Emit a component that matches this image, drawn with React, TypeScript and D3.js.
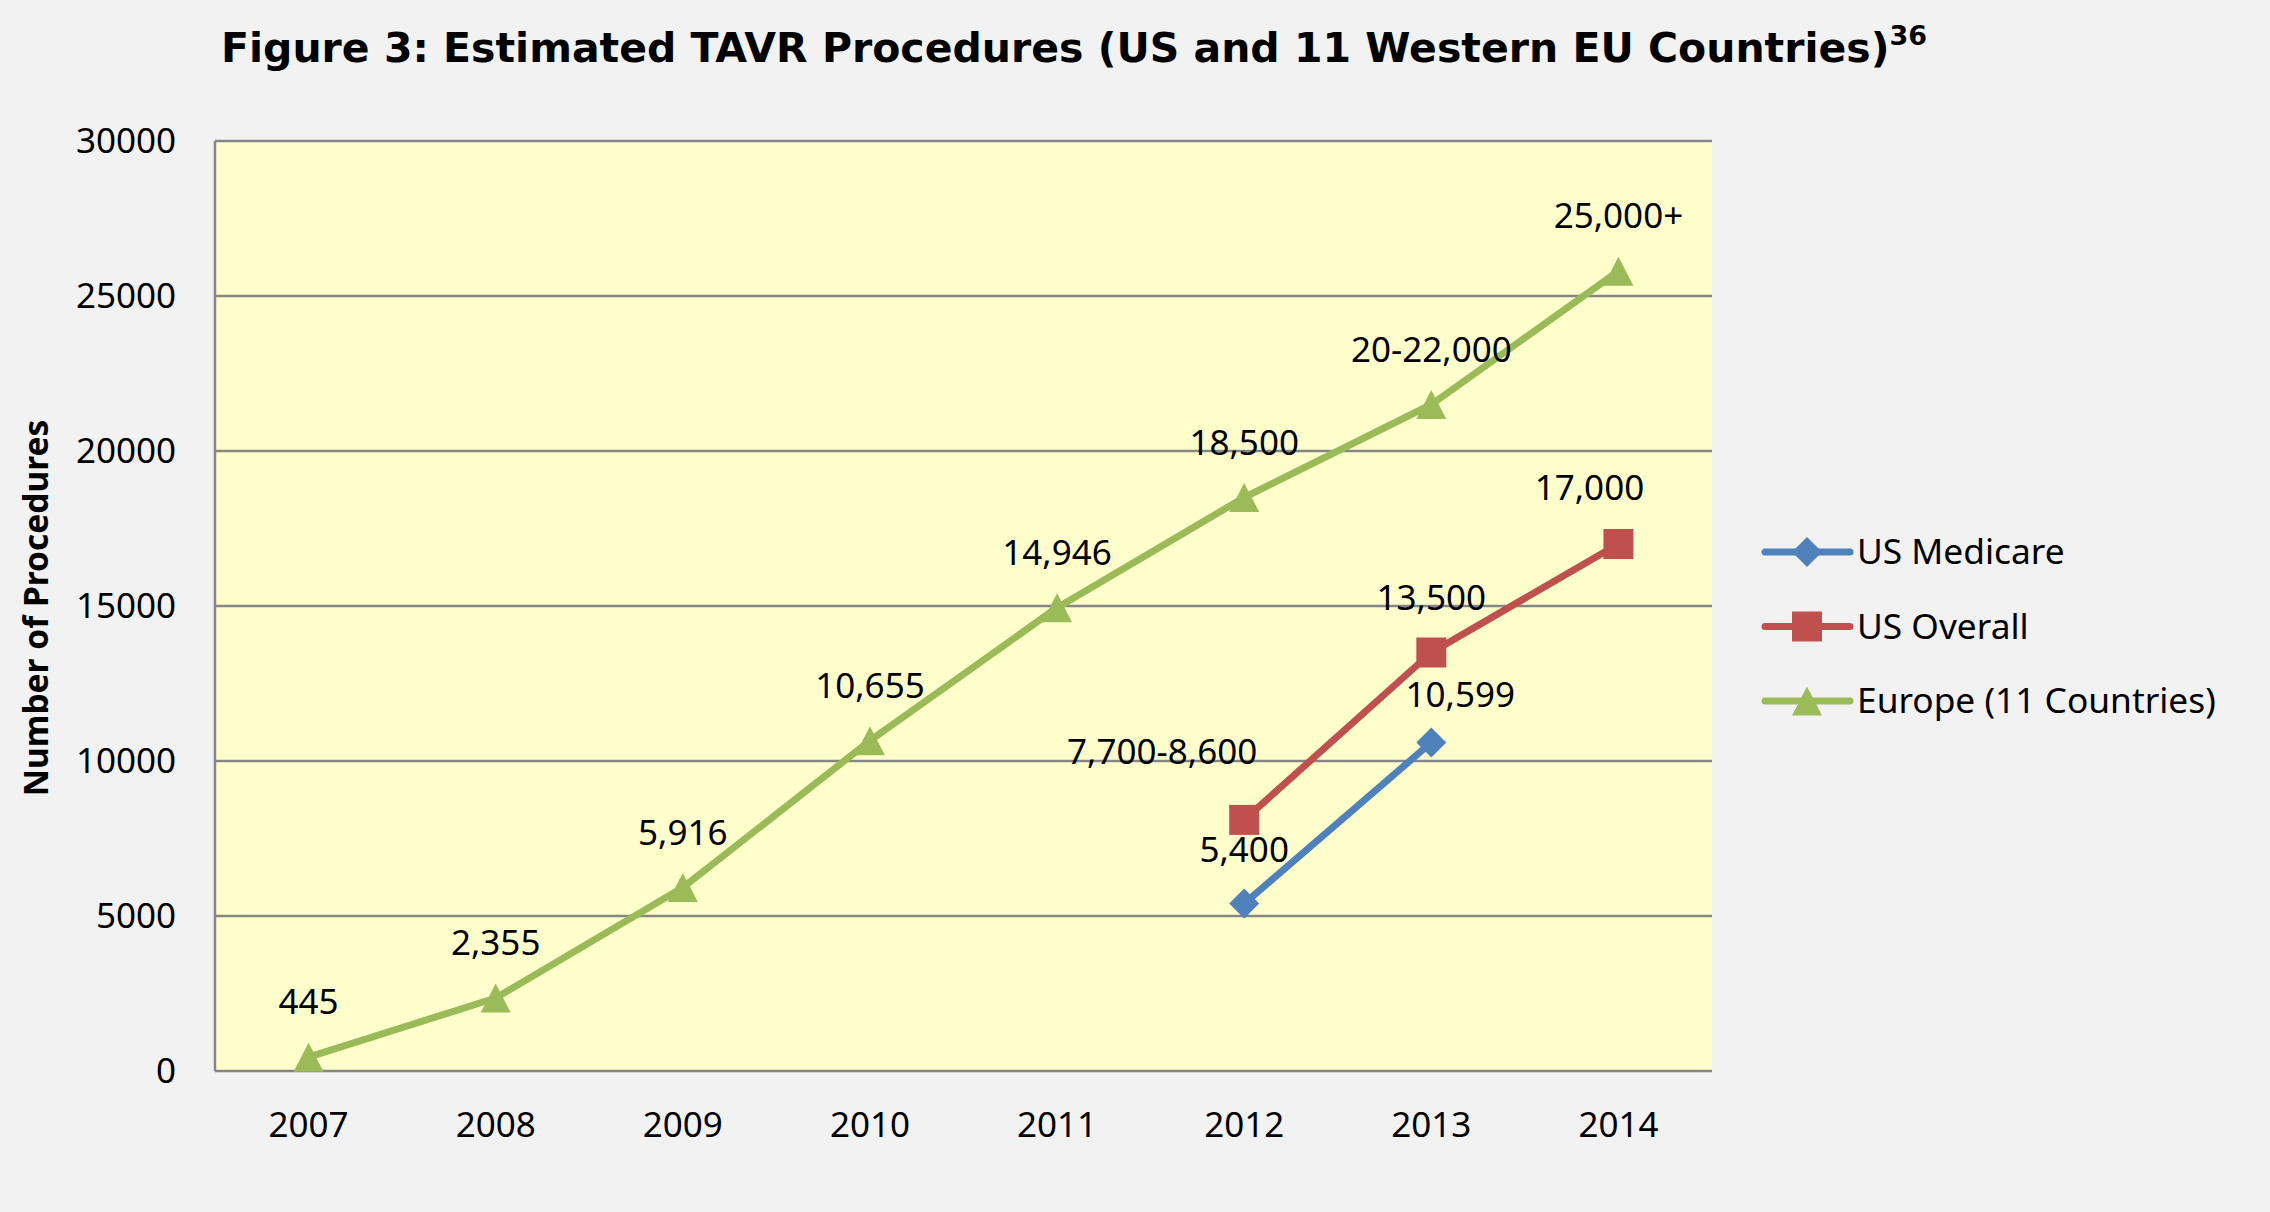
import React from "react";
import * as d3 from "d3";

const years = ["2007", "2008", "2009", "2010", "2011", "2012", "2013", "2014"];
const yTicks = [0, 5000, 10000, 15000, 20000, 25000, 30000];

const europeValues = [445, 2355, 5916, 10655, 14946, 18500, 21500, 25800];
const europeLabels = ["445", "2,355", "5,916", "10,655", "14,946", "18,500", "20-22,000", "25,000+"];

const usOverallYears = ["2012", "2013", "2014"];
const usOverallValues = [8100, 13500, 17000];
const usOverallLabels = ["7,700-8,600", "13,500", "17,000"];

const medicareYears = ["2012", "2013"];
const medicareValues = [5400, 10599];
const medicareLabels = ["5,400", "10,599"];

// label nudges (dx, baseline offset above point)
const europeNudge = europeValues.map(() => [0, 43]);
const usOverallNudge = [[-82, 56], [0, 43], [-29, 44]];
const medicareNudge = [[0, 42], [29, 35]];

const W = 2270, H = 1212;
const left = 215, right = 1712, top = 141, bottom = 1071;
const FONT = "'Noto Sans', 'Open Sans', sans-serif";

const COLORS = { medicare: "#4F81BD", overall: "#C0504D", europe: "#9BBB59" };

function Marker({ type, x, y, color }: { type: string; x: number; y: number; color: string }) {
  if (type === "diamond") {
    const s = 15;
    return <path d={`M${x},${y - s}L${x + s},${y}L${x},${y + s}L${x - s},${y}Z`} fill={color} />;
  }
  if (type === "square") {
    const s = 15;
    return <rect x={x - s} y={y - s} width={2 * s} height={2 * s} fill={color} />;
  }
  const h = 29, w = 30;
  return <path d={`M${x},${y - h / 2}L${x + w / 2},${y + h / 2}L${x - w / 2},${y + h / 2}Z`} fill={color} />;
}

export default function App() {
  const x = d3.scaleBand<string>().domain(years).range([left, right]);
  const cx = (yr: string) => (x(yr) as number) + x.bandwidth() / 2;
  const y = d3.scaleLinear().domain([0, 30000]).range([bottom, top]);
  const line = d3.line<[number, number]>().x((d) => d[0]).y((d) => d[1]);

  const series = [
    { key: "medicare", name: "US Medicare", cats: medicareYears, vals: medicareValues, labels: medicareLabels, nudge: medicareNudge, marker: "diamond" },
    { key: "overall", name: "US Overall", cats: usOverallYears, vals: usOverallValues, labels: usOverallLabels, nudge: usOverallNudge, marker: "square" },
    { key: "europe", name: "Europe (11 Countries)", cats: years, vals: europeValues, labels: europeLabels, nudge: europeNudge, marker: "triangle" },
  ];
  const drawOrder = [series[2], series[1], series[0]];

  return (
    <svg width={W} height={H} style={{ position: "absolute", left: 0, top: 0 }} fontFamily={FONT}>
      <rect x={0} y={0} width={W} height={H} fill="#F2F2F2" />
      <text x={221} y={62} fontFamily="'DejaVu Sans', sans-serif" fontWeight="bold" fontSize={41} fill="#000">
        Figure 3: Estimated TAVR Procedures (US and 11 Western EU Countries)
        <tspan dy={-17} fontSize={27}>36</tspan>
      </text>
      <rect x={left} y={top} width={right - left} height={bottom - top} fill="#FFFFCC" />
      {yTicks.map((t) => (
        <g key={t}>
          <line x1={left} x2={right} y1={y(t)} y2={y(t)} stroke="#868686" strokeWidth={2.5} />
          <text x={176} y={y(t)} dy="0.35em" textAnchor="end" fontSize={35} fill="#000">{t}</text>
        </g>
      ))}
      <line x1={left} x2={left} y1={top} y2={bottom} stroke="#868686" strokeWidth={2.5} />
      {years.map((yr) => (
        <text key={yr} x={cx(yr)} y={1137} textAnchor="middle" fontSize={35} fill="#000">{yr}</text>
      ))}
      <text transform={`translate(48,608) rotate(-90)`} textAnchor="middle" fontSize={33.5} fontWeight="bold" fill="#000">
        Number of Procedures
      </text>
      {drawOrder.map((s) => {
        const pts: [number, number][] = s.cats.map((c, i) => [cx(c), y(s.vals[i])]);
        const color = (COLORS as any)[s.key];
        return (
          <g key={s.key}>
            <path d={line(pts) as string} fill="none" stroke={color} strokeWidth={7} strokeLinejoin="round" strokeLinecap="round" />
            {pts.map((p, i) => (
              <Marker key={i} type={s.marker} x={p[0]} y={p[1]} color={color} />
            ))}
          </g>
        );
      })}
      {drawOrder.map((s) =>
        s.cats.map((c, i) => (
          <text key={s.key + c} x={cx(c) + s.nudge[i][0]} y={y(s.vals[i]) - s.nudge[i][1]} textAnchor="middle" fontSize={35} fill="#000">
            {s.labels[i]}
          </text>
        ))
      )}
      {series.map((s, i) => {
        const ly = 552 + i * 74.5;
        const color = (COLORS as any)[s.key];
        return (
          <g key={s.key}>
            <line x1={1765} x2={1850} y1={ly} y2={ly} stroke={color} strokeWidth={7} strokeLinecap="round" />
            <Marker type={s.marker} x={1807} y={ly} color={color} />
            <text x={1857} y={ly} dy="0.35em" fontSize={35.3} fill="#000">{s.name}</text>
          </g>
        );
      })}
    </svg>
  );
}
